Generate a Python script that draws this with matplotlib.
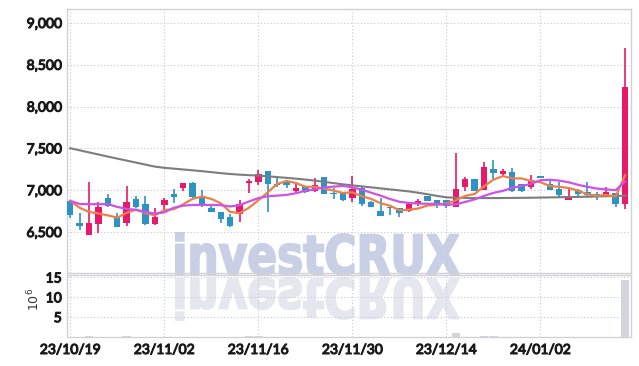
import numpy as np
import matplotlib
matplotlib.use("Agg")
import matplotlib.pyplot as plt
import matplotlib.transforms as mtransforms
import matplotlib.patheffects as pe
from matplotlib.textpath import TextPath
from matplotlib.patches import PathPatch
from matplotlib.font_manager import FontProperties

# daily candles, 23/10/19 .. 24/01/15
opens = [6870, 6610, 6460, 6600, 6905, 6690, 6610, 6895, 6830, 6600,
         6820, 6950, 7025, 7085, 6930, 6785, 6745, 6675, 6720, 7085,
         7100, 7225, 7080, 7100, 6985, 7048, 6990, 7155, 6965, 6968,
         6908, 7028, 6857, 6746, 6795, 6786, 6746, 6830, 6929, 6881,
         6881, 6801, 7040, 7131, 7008, 7250, 7194, 7218, 7080, 7040,
         7167, 7080, 7012, 6881, 7004, 6984, 6952, 6940, 6968, 6837]
highs = [6870, 6730, 7100, 6865, 6955, 6725, 7050, 6930, 6930, 6790,
         6910, 7010, 7085, 7095, 7000, 6815, 6745, 6710, 6877, 7140,
         7245, 7225, 7165, 7127, 7075, 7050, 7146, 7155, 7025, 6970,
         7175, 7056, 6870, 6908, 6795, 6786, 6845, 6897, 6929, 6885,
         6885, 7444, 7160, 7131, 7337, 7365, 7258, 7270, 7080, 7187,
         7170, 7127, 7099, 7040, 7020, 7099, 6984, 7040, 6970, 8706]
lows = [6670, 6530, 6460, 6490, 6800, 6560, 6570, 6785, 6585, 6580,
        6760, 6850, 6990, 6890, 6795, 6740, 6605, 6555, 6625, 6970,
        7065, 6740, 7040, 7028, 6970, 6968, 6976, 6955, 6895, 6870,
        6857, 6817, 6794, 6694, 6702, 6679, 6740, 6817, 6873, 6790,
        6782, 6801, 6988, 6988, 7000, 7135, 7155, 6980, 6976, 7016,
        7145, 7000, 6901, 6881, 6930, 6929, 6885, 6929, 6805, 6770]
closes = [6700, 6575, 6607, 6800, 6815, 6565, 6865, 6795, 6590, 6680,
          6880, 6920, 7085, 6920, 6815, 6740, 6660, 6570, 6840, 7110,
          7195, 7075, 7068, 7065, 7025, 6976, 7068, 6960, 6952, 6877,
          7020, 6837, 6794, 6694, 6782, 6730, 6830, 6869, 6873, 6821,
          6813, 7020, 7131, 6988, 7282, 7210, 7234, 6992, 6988, 7119,
          7147, 7004, 6940, 6925, 6952, 6940, 6913, 6980, 6837, 8230]

# moving averages as drawn
ma_short = [6870, 6790, 6740, 6722, 6699, 6672, 6730, 6768, 6726, 6699,
            6762, 6773, 6831, 6897, 6924, 6896, 6844, 6741, 6725, 6790,
            6880, 6975, 7075, 7110, 7086, 7042, 7040, 7019, 6996, 6967,
            6975, 6929, 6896, 6844, 6815, 6760, 6766, 6781, 6817, 6825,
            6841, 6879, 6932, 6955, 7047, 7126, 7169, 7141, 7141, 7109,
            7096, 7050, 7040, 7027, 6994, 6952, 6934, 6942, 6924, 7180]
ma_mid = [6872, 6835, 6833, 6833, 6833, 6800, 6777, 6765, 6741, 6720,
          6735, 6790, 6815, 6824, 6824, 6824, 6821, 6806, 6821, 6865,
          6905, 6928, 6935, 6944, 6964, 6992, 7012, 7031, 7043, 7051,
          7035, 7006, 6970, 6935, 6895, 6862, 6848, 6840, 6838, 6836,
          6828, 6830, 6860, 6890, 6932, 6968, 6992, 7030, 7050, 7075,
          7120, 7125, 7115, 7095, 7065, 7040, 7020, 7010, 7000, 7105]
ma_long = [7502, 7477, 7452, 7427, 7402, 7378, 7354, 7330, 7306, 7282,
           7268, 7258, 7248, 7238, 7228, 7216, 7204, 7194, 7186, 7180,
           7174, 7166, 7157, 7148, 7138, 7127, 7115, 7100, 7085, 7070,
           7058, 7046, 7034, 7022, 7010, 6998, 6986, 6970, 6952, 6932,
           6915, 6910, 6908, 6906, 6906, 6906, 6907, 6908, 6909, 6910,
           6912, 6914, 6916, 6918, 6920, 6922, 6925, 6928, 6930, 6935]

# volume in millions
volume = [0.05, 0.06, 0.3, 0.05, 0.05, 0.06, 0.25, 0.05, 0.05, 0.05,
          0.05, 0.05, 0.06, 0.05, 0.05, 0.05, 0.05, 0.05, 0.06, 0.25,
          0.25, 0.08, 0.05, 0.05, 0.05, 0.05, 0.05, 0.05, 0.05, 0.05,
          0.06, 0.05, 0.05, 0.05, 0.05, 0.05, 0.05, 0.05, 0.05, 0.05,
          0.05, 1.1, 0.08, 0.06, 0.25, 0.25, 0.1, 0.05, 0.05, 0.05,
          0.05, 0.05, 0.05, 0.05, 0.05, 0.05, 0.05, 0.05, 0.08, 14.4]

tick_pos = [0, 10, 20, 30, 40, 50]
tick_labels = ['23/10/19', '23/11/02', '23/11/16', '23/11/30', '23/12/14', '24/01/02']
price_ticks = [6500, 7000, 7500, 8000, 8500, 9000]
vol_ticks = [5, 10, 15]

UP = '#e8196a'
DOWN = '#2b93c6'
GRID = '#c3c9de'
SPINE = '#d2d2d6'
TXT = '#1a1a1a'
FONT = ['Lato', 'DejaVu Sans']

plt.rcParams['font.family'] = FONT

fig = plt.figure(figsize=(6.39, 3.66), dpi=100)
W, H = 639, 366
ax = fig.add_axes([66.7 / W, 1 - 273 / H, (630.7 - 66.7) / W, (273 - 9) / H])
axv = fig.add_axes([66.7 / W, 1 - 337 / H, (630.7 - 66.7) / W, (337 - 275) / H], sharex=ax)

# watermark with reflection
fp = FontProperties(family='DejaVu Sans', weight='bold')
tp = TextPath((0, 0), 'investCRUX', size=100, prop=fp)
bb = tp.get_extents()
sx = 283 / bb.width
sy = 42 / bb.height
t1 = mtransforms.Affine2D().translate(-bb.x0, -bb.y0).scale(sx, sy).translate(176, H - 275)
t2 = mtransforms.Affine2D().translate(-bb.x0, -bb.y0).scale(sx, -sy).translate(176, H - 278)
fig.add_artist(PathPatch(tp, transform=t1, facecolor='#c9d0e6', edgecolor='#c9d0e6',
                         lw=1.4, zorder=-1))
fig.add_artist(PathPatch(tp, transform=t2, facecolor='#e5e7ef', edgecolor='#e5e7ef',
                         lw=1.4, zorder=-1))

x = np.arange(len(closes))
o = np.array(opens)
c = np.array(closes)
up = c >= o
cols = np.where(up, UP, DOWN)

ax.vlines(x, lows, highs, colors=cols, lw=1.2, zorder=3)
body = np.maximum(np.abs(c - o), 10)
ax.bar(x, body, bottom=np.minimum(o, c), width=0.68, color=cols, zorder=4)

ax.plot(x, ma_long, color='#7d7d7d', lw=1.5, zorder=5)
ax.plot(x, ma_short, color='#ef8045', lw=1.6, zorder=5)
ax.plot(x, ma_mid, color='#cc52ea', lw=1.6, zorder=5)

axv.bar(x, volume, width=0.9, color='#d4d4dc', zorder=3)

for a in (ax, axv):
    a.set_facecolor('none')
    a.grid(True, color=GRID, ls=(0, (1, 2)), lw=0.8)
    a.set_axisbelow(True)
    for s in a.spines.values():
        s.set_color(SPINE)
        s.set_linewidth(1)
    a.tick_params(length=0, labelsize=10, colors=TXT)

ax.set_xlim(-0.38, 59.6)
ax.set_ylim(6010, 9167)
ax.set_yticks(price_ticks)
ax.set_yticklabels([f'{v:,}' for v in price_ticks])
ax.tick_params(axis='x', labelbottom=False)

axv.set_ylim(0, 15.63)
axv.set_yticks(vol_ticks)
axv.set_yticklabels([str(v) for v in vol_ticks])
axv.set_xticks(tick_pos)
axv.set_xticklabels(tick_labels)
axv.tick_params(axis='x', pad=5)
axv.set_ylabel(r'$10^6$', fontsize=9, color='#333333')
axv.yaxis.set_label_coords(-0.043, 0.6)

# heavier tick text
bold = [pe.withStroke(linewidth=0.8, foreground=TXT)]
for lbl in ax.get_yticklabels() + axv.get_yticklabels() + axv.get_xticklabels():
    lbl.set_path_effects(bold)

fig.savefig('out.png', dpi=100)
